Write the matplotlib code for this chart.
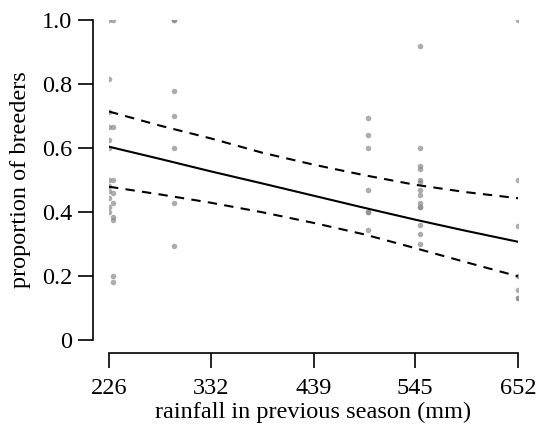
import matplotlib
matplotlib.use("Agg")
import matplotlib.pyplot as plt

plt.rcParams['font.family'] = ['Liberation Serif', 'DejaVu Serif']

# observed proportions per year (rainfall in previous season, mm)
rain_226 = [1.0, 0.816, 0.714, 0.667, 0.625, 0.6, 0.5, 0.482, 0.466, 0.444, 0.417, 0.4]
rain_230 = [1.0, 0.667, 0.5, 0.458, 0.429, 0.385, 0.375, 0.2, 0.182]
rain_294 = [1.0, 1.0, 0.778, 0.7, 0.6, 0.429, 0.294]
rain_496 = [0.695, 0.642, 0.6, 0.468, 0.4, 0.4, 0.343]
rain_550 = [0.92, 0.6, 0.545, 0.533, 0.5, 0.493, 0.47, 0.453, 0.429, 0.417, 0.417,
            0.359, 0.332, 0.299]
rain_652 = [1.0, 0.5, 0.356, 0.2, 0.157, 0.132, 0.132]

groups = {226: rain_226, 230: rain_230, 294: rain_294, 496: rain_496,
          550: rain_550, 652: rain_652}

# fitted model and 95% limits
fit_x = [226, 279, 332, 386, 439, 492, 545, 598, 652]
fit_mid = [0.604, 0.566, 0.527, 0.489, 0.451, 0.413, 0.376, 0.341, 0.307]
fit_up = [0.714, 0.670, 0.630, 0.585, 0.548, 0.515, 0.485, 0.462, 0.443]
fit_lo = [0.479, 0.455, 0.429, 0.399, 0.366, 0.330, 0.287, 0.243, 0.199]

xticks = [226, 332, 439, 545, 652]
yticks = [0, 0.2, 0.4, 0.6, 0.8, 1.0]
ytick_labels = ['0', '0.2', '0.4', '0.6', '0.8', '1.0']

fig = plt.figure(figsize=(5.37, 4.28), dpi=100)
ax = fig.add_axes([109 / 537, 1 - 340 / 428, 409 / 537, 320 / 428])

for xv, ys in groups.items():
    ax.scatter([xv] * len(ys), ys, s=16, color='#8a8a8a', alpha=0.7,
               linewidths=0, zorder=2)

ax.plot(fit_x, fit_mid, color='black', lw=1.5, zorder=3)
ax.plot(fit_x, fit_up, color='black', lw=1.5, ls=(0, (4.5, 3.5)), zorder=3)
ax.plot(fit_x, fit_lo, color='black', lw=1.5, ls=(0, (4.5, 3.5)), zorder=3)

ax.set_xlim(226, 652)
ax.set_ylim(0, 1.0)
ax.set_xticks(xticks)
ax.set_yticks(yticks)
ax.set_yticklabels(ytick_labels)

for s in ['top', 'right']:
    ax.spines[s].set_visible(False)
ax.spines['left'].set_position(('outward', 11.5))
ax.spines['bottom'].set_position(('outward', 9.4))
ax.spines['left'].set_bounds(0, 1.0)
ax.spines['bottom'].set_bounds(226, 652)
for s in ['left', 'bottom']:
    ax.spines[s].set_linewidth(1.2)

ax.tick_params(axis='both', length=11, width=1.2, labelsize=17.5, direction='out')
ax.tick_params(axis='y', pad=4)
ax.tick_params(axis='x', pad=7)

ax.set_xlabel('rainfall in previous season (mm)', fontsize=17.5, labelpad=2)
ax.set_ylabel('proportion of breeders', fontsize=17.5, labelpad=8)

fig.savefig('out.png', dpi=100)
